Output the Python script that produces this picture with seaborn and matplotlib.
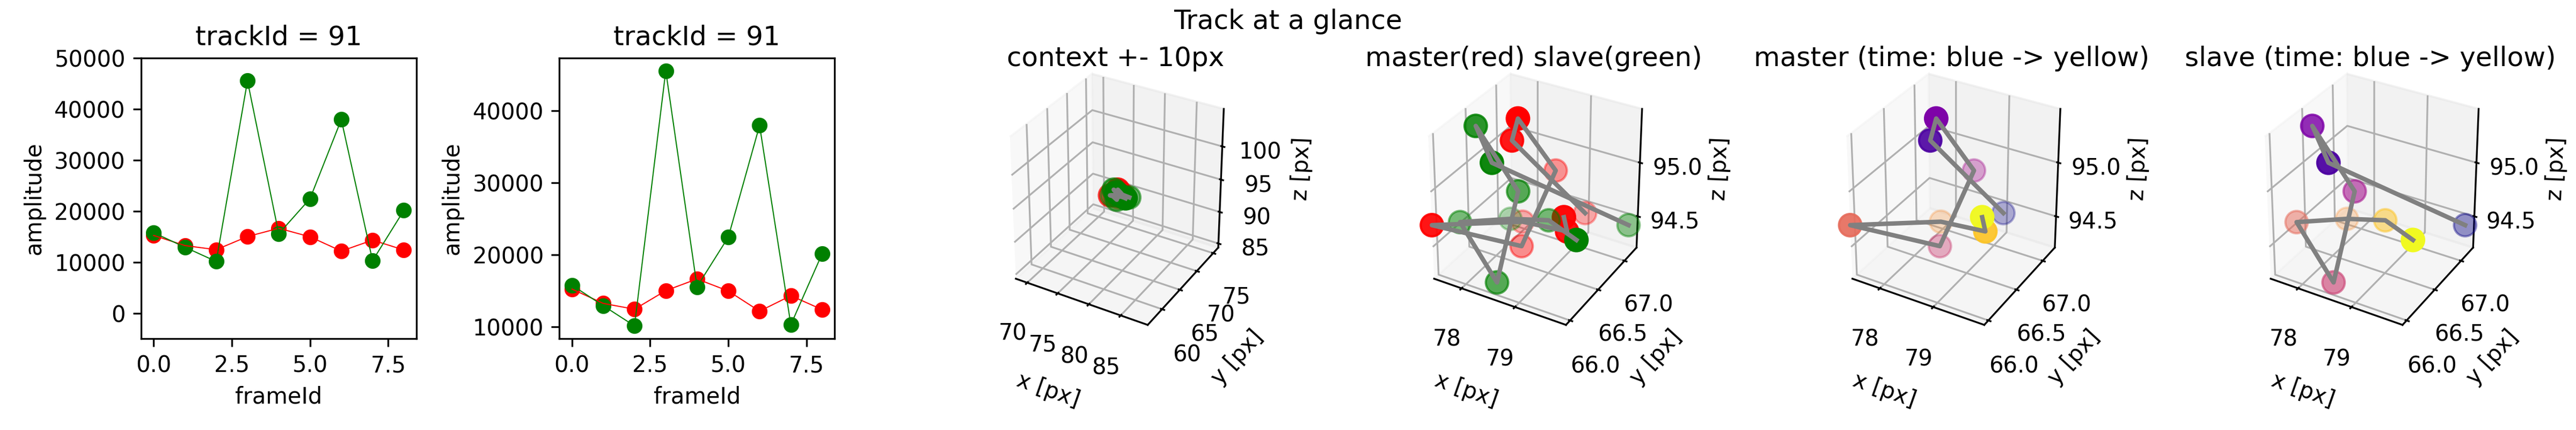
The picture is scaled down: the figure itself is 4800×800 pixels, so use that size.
import pandas as pd
import seaborn as sns
import matplotlib.pyplot as plt

# amplitude per frame
frames = [0, 1, 2, 3, 4, 5, 6, 7, 8]
amp_master = [15230, 13240, 12430, 15010, 16630, 14960, 12160, 14310, 12380]
amp_slave = [15770, 12920, 10120, 45530, 15550, 22440, 37940, 10280, 20130]

# track positions
x_master = [79.04, 78.25, 78.33, 78.52, 78.35, 77.47, 78.15, 79.36, 79.30]
y_master = [67.13, 66.57, 66.60, 67.08, 66.63, 65.93, 66.83, 66.48, 66.48]
z_master = [94.45, 95.27, 95.46, 94.80, 94.28, 94.70, 94.38, 94.66, 94.78]
x_slave = [79.81, 78.30, 77.80, 78.38, 78.44, 77.51, 77.91, 78.76, 79.78]
y_slave = [67.18, 66.20, 66.38, 66.55, 66.13, 66.33, 66.83, 66.73, 66.23]
z_slave = [94.43, 95.25, 95.42, 94.84, 94.22, 94.53, 94.37, 94.54, 94.78]

# limits and ticks of the 3d panels
context_lim = [(68.1, 89.15), (56.1, 76.6), (84.35, 105.5)]
context_ticks = [[70, 75, 80, 85], [60, 65, 70, 75], [85, 90, 95, 100]]
zoom_lim = [(77.47, 79.92), (65.93, 67.24), (94.2, 95.48)]
zoom_ticks = [[78, 79], [66.0, 66.5, 67.0], [94.5, 95.0]]

df = pd.DataFrame({'frameId': frames, 'master': amp_master, 'slave': amp_slave})

fig = plt.figure(figsize=(16, 8 / 3), dpi=300)
gs = fig.add_gridspec(1, 6, left=0.0548, right=0.9735, top=0.865, bottom=0.2125, wspace=0.52)


def amplitude_panel(ax):
    for col, color in [('master', 'red'), ('slave', 'green')]:
        sns.scatterplot(data=df, x='frameId', y=col, color=color, s=36, edgecolor=color, linewidth=1, ax=ax, zorder=1)
        sns.lineplot(data=df, x='frameId', y=col, color=color, linewidth=0.5, ax=ax, zorder=2)
    ax.set_xlabel('frameId')
    ax.set_ylabel('amplitude')
    ax.set_title('trackId = 91')
    ax.set_xticks([0, 2.5, 5, 7.5])


def track_panel(i, title, lim, ticks):
    ax = fig.add_subplot(gs[0, i], projection='3d', computed_zorder=False)
    # keep the stretched box instead of a square one
    ax.apply_aspect = lambda position=None: None
    pos = ax.get_position()
    ax.set_position([pos.x0 + 0.035 * pos.width, pos.y0 + 0.015 * pos.height,
                     0.93 * pos.width, 0.97 * pos.height])
    ax.set_box_aspect((1, 1, 1))
    ax.set_xlim(*lim[0], view_margin=0)
    ax.set_ylim(*lim[1], view_margin=0)
    ax.set_zlim(*lim[2], view_margin=0)
    ax.set_xticks(ticks[0])
    ax.set_yticks(ticks[1])
    ax.set_zticks(ticks[2])
    ax.set_xlabel('x [px]')
    ax.set_ylabel('y [px]')
    ax.set_zlabel('z [px]')
    # Axes3D scales the title height by 0.92
    ax.set_title(title, y=1.018)
    return ax


def track_lines(ax, which):
    if 'master' in which:
        ax.plot(x_master, y_master, z_master, color='gray', linewidth=2, zorder=50)
    if 'slave' in which:
        ax.plot(x_slave, y_slave, z_slave, color='gray', linewidth=2, zorder=50)


ax1 = fig.add_subplot(gs[0, 0])
amplitude_panel(ax1)
ax1.set_ylim(-5000, 50000)

ax2 = fig.add_subplot(gs[0, 1])
amplitude_panel(ax2)

plasma = sns.color_palette('plasma', as_cmap=True)

ax3 = track_panel(2, 'context +- 10px', context_lim, context_ticks)
ax3.scatter(x_master, y_master, z_master, color='red', s=100)
ax3.scatter(x_slave, y_slave, z_slave, color='green', s=100)
track_lines(ax3, ['master', 'slave'])

ax4 = track_panel(3, 'master(red) slave(green)', zoom_lim, zoom_ticks)
ax4.scatter(x_master, y_master, z_master, color='red', s=100)
ax4.scatter(x_slave, y_slave, z_slave, color='green', s=100)
track_lines(ax4, ['master', 'slave'])

ax5 = track_panel(4, 'master (time: blue -> yellow)', zoom_lim, zoom_ticks)
ax5.scatter(x_master, y_master, z_master, c=frames, cmap=plasma, s=100)
track_lines(ax5, ['master'])

ax6 = track_panel(5, 'slave (time: blue -> yellow)', zoom_lim, zoom_ticks)
ax6.scatter(x_slave, y_slave, z_slave, c=frames, cmap=plasma, s=100)
track_lines(ax6, ['slave'])

fig.suptitle('Track at a glance', fontsize=12)

fig.savefig('out.png', dpi=300)
